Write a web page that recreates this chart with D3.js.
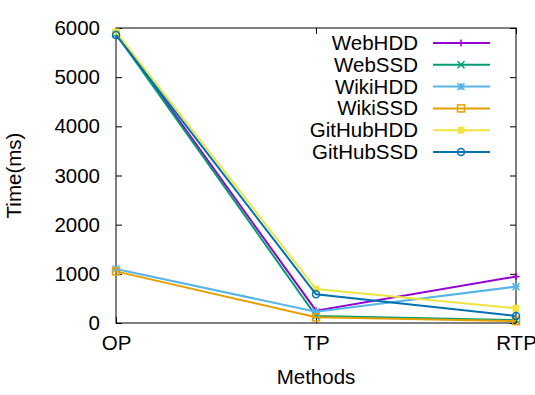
<!DOCTYPE html>
<html>
<head>
<meta charset="utf-8">
<script src="https://cdn.jsdelivr.net/npm/d3@7"></script>
<style>
  body { margin: 0; background: #fff; }
  text { font-family: "Liberation Sans", Arial, sans-serif; fill: #000; }
</style>
</head>
<body>
<svg id="chart"></svg>
<script>
const methods = ["OP", "TP", "RTP"];
const seriesNames = ["WebHDD", "WebSSD", "WikiHDD", "WikiSSD", "GitHubHDD", "GitHubSSD"];
const webHDD = [5900, 250, 945];
const webSSD = [5880, 143, 60];
const wikiHDD = [1100, 230, 740];
const wikiSSD = [1050, 115, 40];
const gitHubHDD = [5920, 690, 300];
const gitHubSSD = [5860, 585, 143];
const yTicks = [0, 1000, 2000, 3000, 4000, 5000, 6000];
const colors = ["#9400d3", "#009e73", "#56b4e9", "#e69f00", "#f0e442", "#0072b2"];
const symbols = ["plus", "cross", "star", "box", "fbox", "circle"];

const allSeries = [webHDD, webSSD, wikiHDD, wikiSSD, gitHubHDD, gitHubSSD];

const width = 535;
const height = 395;
const margin = {left: 116, right: 19, top: 28, bottom: 72};

const svg = d3.select('#chart')
    .attr('width', width).attr('height', height);

const x = d3.scalePoint()
    .domain(methods)
    .range([margin.left, width - margin.right]);

const y = d3.scaleLinear()
    .domain([0, 6000])
    .range([height - margin.bottom, margin.top]);

const fontSize = 20.5;
const tickLen = 6;

// frame
svg.append('rect')
    .attr('x', margin.left).attr('y', margin.top)
    .attr('width', width - margin.left - margin.right)
    .attr('height', height - margin.top - margin.bottom)
    .attr('fill', 'none').attr('stroke', '#000').attr('stroke-width', 1);

// y axis (ticks inward, mirrored on right)
const yAxis = d3.axisLeft(y).tickValues(yTicks).tickSize(-tickLen).tickPadding(16).tickFormat(d3.format('d'));
const gy = svg.append('g')
    .attr('transform', `translate(${margin.left},0)`)
    .call(yAxis);
gy.select('.domain').remove();
gy.selectAll('text').attr('font-size', fontSize).style('font-family', '"Liberation Sans", Arial, sans-serif');

const gyr = svg.append('g')
    .attr('transform', `translate(${width - margin.right},0)`)
    .call(d3.axisRight(y).tickValues(yTicks).tickSize(-tickLen).tickFormat(''));
gyr.select('.domain').remove();

// x axis
const gx = svg.append('g')
    .attr('transform', `translate(0,${height - margin.bottom})`)
    .call(d3.axisBottom(x).tickSize(-tickLen).tickPadding(12));
gx.select('.domain').remove();
gx.selectAll('text').attr('font-size', fontSize).style('font-family', '"Liberation Sans", Arial, sans-serif');

const gxt = svg.append('g')
    .attr('transform', `translate(0,${margin.top})`)
    .call(d3.axisTop(x).tickSize(-tickLen).tickFormat(''));
gxt.select('.domain').remove();

svg.selectAll('.tick line').attr('stroke', '#000');

// axis titles
svg.append('text')
    .attr('transform', `translate(21,${(margin.top + height - margin.bottom) / 2}) rotate(-90)`)
    .attr('text-anchor', 'middle')
    .attr('font-size', fontSize)
    .text('Time(ms)');

svg.append('text')
    .attr('x', (margin.left + width - margin.right) / 2)
    .attr('y', 384)
    .attr('text-anchor', 'middle')
    .attr('font-size', fontSize)
    .text('Methods');

function drawPoint(g, sym, cx, cy, color) {
    const s = 3.5;
    if (sym === 'plus') {
        g.append('path').attr('d', `M${cx - s},${cy}H${cx + s}M${cx},${cy - s}V${cy + s}`)
            .attr('stroke', color).attr('stroke-width', 1.5);
    } else if (sym === 'cross') {
        g.append('path').attr('d', `M${cx - s},${cy - s}L${cx + s},${cy + s}M${cx - s},${cy + s}L${cx + s},${cy - s}`)
            .attr('stroke', color).attr('stroke-width', 1.5);
    } else if (sym === 'star') {
        g.append('path').attr('d', `M${cx - s},${cy}H${cx + s}M${cx},${cy - s}V${cy + s}M${cx - s},${cy - s}L${cx + s},${cy + s}M${cx - s},${cy + s}L${cx + s},${cy - s}`)
            .attr('stroke', color).attr('stroke-width', 1.5);
    } else if (sym === 'box') {
        g.append('rect').attr('x', cx - s).attr('y', cy - s).attr('width', 2 * s).attr('height', 2 * s)
            .attr('fill', 'none').attr('stroke', color).attr('stroke-width', 1.5);
    } else if (sym === 'fbox') {
        g.append('rect').attr('x', cx - s).attr('y', cy - s).attr('width', 2 * s).attr('height', 2 * s)
            .attr('fill', color);
    } else {
        g.append('circle').attr('cx', cx).attr('cy', cy).attr('r', s)
            .attr('fill', 'none').attr('stroke', color).attr('stroke-width', 1.5);
    }
}

const line = d3.line()
    .x((d, i) => x(methods[i]))
    .y(d => y(d));

allSeries.forEach((vals, k) => {
    const g = svg.append('g');
    g.append('path')
        .datum(vals)
        .attr('d', line)
        .attr('fill', 'none')
        .attr('stroke', colors[k])
        .attr('stroke-width', 2);
    vals.forEach((v, i) => drawPoint(g, symbols[k], x(methods[i]), y(v), colors[k]));
});

// legend
const legend = svg.append('g');
seriesNames.forEach((name, k) => {
    const cy = 43 + k * 21.8;
    legend.append('text')
        .attr('x', 418).attr('y', cy + 7)
        .attr('text-anchor', 'end')
        .attr('font-size', fontSize)
        .text(name);
    legend.append('line')
        .attr('x1', 433).attr('x2', 490)
        .attr('y1', cy).attr('y2', cy)
        .attr('stroke', colors[k]).attr('stroke-width', 2);
    drawPoint(legend, symbols[k], 461, cy, colors[k]);
});
</script>
</body>
</html>
